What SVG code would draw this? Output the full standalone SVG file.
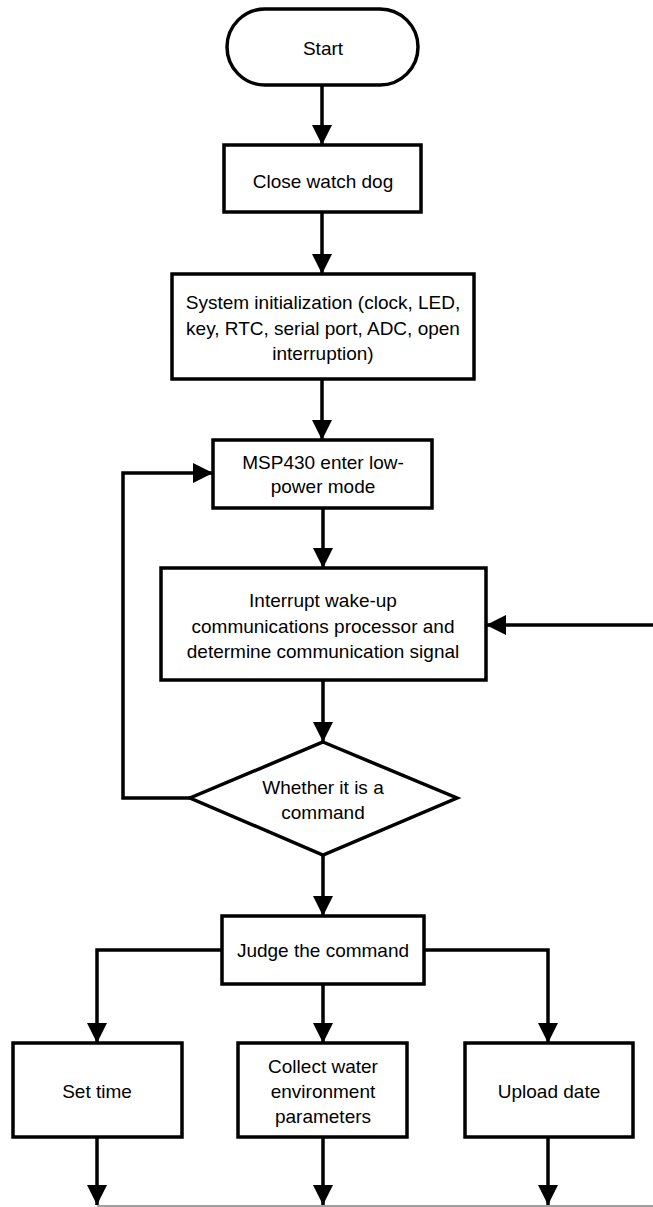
<svg xmlns="http://www.w3.org/2000/svg" width="653" height="1207" viewBox="0 0 653 1207">
  <style>
    .shape { fill: #ffffff; stroke: #000000; stroke-width: 3.5; stroke-linejoin: miter; }
    .link { fill: none; stroke: #000000; stroke-width: 3.5; }
    .base { fill: none; stroke: #808080; stroke-width: 1.5; }
    text { font-family: "Liberation Sans", Arial, sans-serif; font-size: 19px; fill: #000000; text-anchor: middle; }
  </style>
  <defs>
    <marker id="arrow" viewBox="0 0 10 10" refX="10" refY="5" markerWidth="20" markerHeight="20" markerUnits="userSpaceOnUse" orient="auto">
      <path d="M0,0 L10,5 L0,10 Z" fill="#000000"/>
    </marker>
  </defs>
  <rect width="653" height="1207" fill="#ffffff"/>

  <!-- connectors -->
  <g id="connectors">
    <path class="link" d="M322,85 V145" marker-end="url(#arrow)"/>
    <path class="link" d="M322,212 V274" marker-end="url(#arrow)"/>
    <path class="link" d="M322,379 V440" marker-end="url(#arrow)"/>
    <path class="link" d="M323,508 V568" marker-end="url(#arrow)"/>
    <path class="link" d="M323,680 V742" marker-end="url(#arrow)"/>
    <path class="link" d="M323,855 V916" marker-end="url(#arrow)"/>
    <path class="link" d="M190,798 H123 V473 H213" marker-end="url(#arrow)"/>
    <path class="link" d="M653,625 H486" marker-end="url(#arrow)"/>
    <path class="link" d="M222,950 H97 V1043" marker-end="url(#arrow)"/>
    <path class="link" d="M323,984 V1043" marker-end="url(#arrow)"/>
    <path class="link" d="M424,950 H548 V1043" marker-end="url(#arrow)"/>
    <path class="link" d="M97,1137 V1205" marker-end="url(#arrow)"/>
    <path class="link" d="M323,1137 V1205" marker-end="url(#arrow)"/>
    <path class="link" d="M548,1137 V1205" marker-end="url(#arrow)"/>
    <path class="base" d="M97,1206 H653"/>
  </g>

  <g id="start">
    <rect class="shape" x="227" y="9" width="191" height="76" rx="38" ry="38"/>
    <text x="323" y="55">Start</text>
  </g>

  <g id="close-watchdog">
    <rect class="shape" x="224" y="145" width="197" height="67"/>
    <text x="323" y="188">Close watch dog</text>
  </g>

  <g id="system-init">
    <rect class="shape" x="172" y="274" width="302" height="105"/>
    <text x="323" y="309">System initialization (clock, LED,</text>
    <text x="323" y="335">key, RTC, serial port, ADC, open</text>
    <text x="323" y="360">interruption)</text>
  </g>

  <g id="low-power">
    <rect class="shape" x="213" y="440" width="219" height="68"/>
    <text x="323" y="469">MSP430 enter low-</text>
    <text x="323" y="493">power mode</text>
  </g>

  <g id="wake-up">
    <rect class="shape" x="161" y="568" width="325" height="112"/>
    <text x="323" y="607">Interrupt wake-up</text>
    <text x="323" y="633">communications processor and</text>
    <text x="323" y="658">determine communication signal</text>
  </g>

  <g id="is-command">
    <polygon class="shape" points="323,742 457,798 323,855 190,798"/>
    <text x="323" y="794">Whether it is a</text>
    <text x="323" y="819">command</text>
  </g>

  <g id="judge">
    <rect class="shape" x="222" y="916" width="202" height="68"/>
    <text x="323" y="957">Judge the command</text>
  </g>

  <g id="set-time">
    <rect class="shape" x="13" y="1043" width="169" height="94"/>
    <text x="97" y="1098">Set time</text>
  </g>

  <g id="collect">
    <rect class="shape" x="238" y="1043" width="169" height="94"/>
    <text x="323" y="1073">Collect water</text>
    <text x="323" y="1098">environment</text>
    <text x="323" y="1123">parameters</text>
  </g>

  <g id="upload">
    <rect class="shape" x="465" y="1043" width="168" height="94"/>
    <text x="549" y="1098">Upload date</text>
  </g>
</svg>
